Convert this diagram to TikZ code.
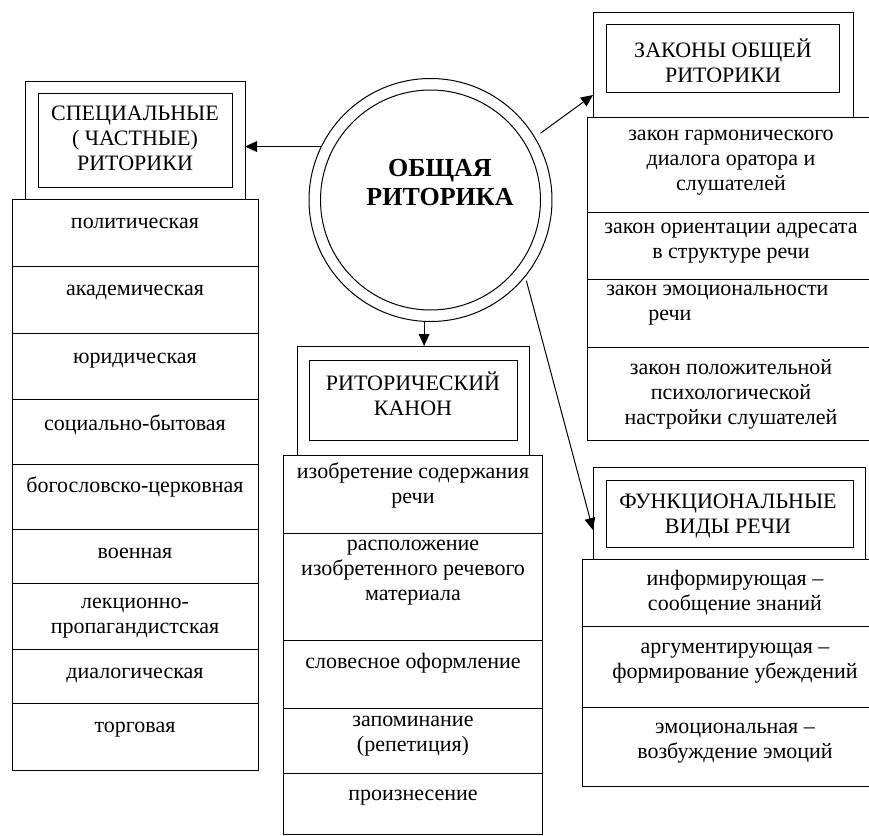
\documentclass[tikz,border=0pt]{standalone}
\usepackage{fontspec}
\setmainfont{LiberationSerif}[Extension=.ttf, UprightFont=*-Regular, BoldFont=*-Bold]
\usetikzlibrary{fit,arrows.meta}
\begin{document}
\begin{tikzpicture}[x=0.75pt,y=-0.75pt,
  box/.style={draw, line width=0.75pt, inner sep=0pt, outer sep=0pt},
  txt/.style={inner sep=0pt, anchor=north, yshift=13pt, align=center,
    font=\fontsize{16.5}{18.75}\selectfont, execute at begin node={\rule{0pt}{13pt}}},
  ltxt/.style={txt, anchor=north west, align=left},
  btxt/.style={inner sep=0pt, anchor=north, yshift=15pt, align=center,
    font=\fontsize{19.5}{21.75}\selectfont\bfseries, execute at begin node={\rule{0pt}{15pt}}},
  arr/.style={line width=0.75pt, -{Triangle[length=9pt,width=8pt]}},
  ring/.style={circle, draw, line width=0.75pt, inner sep=0pt}]
\useasboundingbox (0,0) rectangle (869,836);
\clip (0,0) rectangle (869,836);

% central circle
\node[ring, minimum size=182.25pt] (circ) at (430.5,200) {};
\node[ring, minimum size=165pt] (circin) at (430.5,200) {};
\node[btxt] (ctext) at (440,179) {ОБЩАЯ\\РИТОРИКА};

% left group
\node[box, fit={(25,81)(245,199)}] (lout) {};
\node[box, fit={(38,93)(232,187)}] (lin) {};
\node[txt] (lhead) at (135,123) {СПЕЦИАЛЬНЫЕ\\( ЧАСТНЫЕ)\\РИТОРИКИ};
\node[box, fit={(12,199)(258,266)}] (l1) {};
\node[box, fit={(12,266)(258,333)}] (l2) {};
\node[box, fit={(12,333)(258,399)}] (l3) {};
\node[box, fit={(12,399)(258,464)}] (l4) {};
\node[box, fit={(12,464)(258,529)}] (l5) {};
\node[box, fit={(12,529)(258,583)}] (l6) {};
\node[box, fit={(12,583)(258,649)}] (l7) {};
\node[box, fit={(12,649)(258,703)}] (l8) {};
\node[box, fit={(12,703)(258,770)}] (l9) {};
\node[txt] (l1t) at (135,228) {политическая};
\node[txt] (l2t) at (135,295) {академическая};
\node[txt] (l3t) at (135,363) {юридическая};
\node[txt] (l4t) at (135,430) {социально-бытовая};
\node[txt] (l5t) at (135,492) {богословско-церковная};
\node[txt] (l6t) at (135,558) {военная};
\node[txt] (l7t) at (135,615) {лекционно-\\пропагандистская};
\node[txt] (l8t) at (135,678) {диалогическая};
\node[txt] (l9t) at (135,732) {торговая};

% top right group
\node[box, fit={(593,12)(853,117)}] (rout) {};
\node[box, fit={(606,24)(839,92)}] (rin) {};
\node[txt] (rhead) at (723,56) {ЗАКОНЫ ОБЩЕЙ\\РИТОРИКИ};
\node[box, fit={(587,117)(880,212)}] (r1) {};
\node[box, fit={(587,212)(880,279)}] (r2) {};
\node[box, fit={(587,279)(880,347)}] (r3) {};
\node[box, fit={(587,347)(880,440)}] (r4) {};
\node[txt] (r1t) at (731,147) {закон гармонического\\диалога оратора и\\слушателей};
\node[txt] (r2t) at (731,240) {закон ориентации адресата\\в структуре речи};
\node[ltxt] (r3t) at (606,302) {закон эмоциональности\\\hspace*{31.5pt}речи};
\node[txt] (r4t) at (731,377) {закон положительной\\психологической\\настройки слушателей};

% middle group
\node[box, fit={(297,346)(529,455)}] (mout) {};
\node[box, fit={(309,360)(517,440)}] (min) {};
\node[txt] (mhead) at (413,388.5) {РИТОРИЧЕСКИЙ\\КАНОН};
\node[box, fit={(283,455)(542,533)}] (m1) {};
\node[box, fit={(283,533)(542,640)}] (m2) {};
\node[box, fit={(283,640)(542,708)}] (m3) {};
\node[box, fit={(283,708)(542,773)}] (m4) {};
\node[box, fit={(283,773)(542,834)}] (m5) {};
\node[txt] (m1t) at (413,480) {изобретение содержания\\речи};
\node[txt] (m2t) at (413,557) {расположение\\изобретенного речевого\\материала};
\node[txt] (m3t) at (413,668) {словесное оформление};
\node[txt] (m4t) at (413,733) {запоминание\\(репетиция)};
\node[txt] (m5t) at (413,800) {произнесение};

% bottom right group
\node[box, fit={(593,467)(865,559)}] (fout) {};
\node[box, fit={(606,480)(853,547)}] (fin) {};
\node[txt] (fhead) at (728,511) {ФУНКЦИОНАЛЬНЫЕ\\ВИДЫ РЕЧИ};
\node[box, fit={(582,559)(880,626)}] (f1) {};
\node[box, fit={(582,626)(880,707)}] (f2) {};
\node[box, fit={(582,707)(880,786)}] (f3) {};
\node[txt] (f1t) at (735,587) {информирующая –\\сообщение знаний};
\node[txt] (f2t) at (735,660) {аргументирующая –\\формирование убеждений};
\node[txt] (f3t) at (735,740) {эмоциональная –\\возбуждение эмоций};

% connectors
\coordinate (tr) at (593,95);
\coordinate (br) at (593,530);
\draw[arr] (circ.154) -- (circ.154 -| lout.east);
\draw[arr] (circ.267) -- (circ.267 |- mout.north);
\draw[arr, shorten <=5pt] (circ.31) -- (tr);
\draw[arr, shorten <=3pt] (circ.-39) -- (br);
\end{tikzpicture}
\end{document}
